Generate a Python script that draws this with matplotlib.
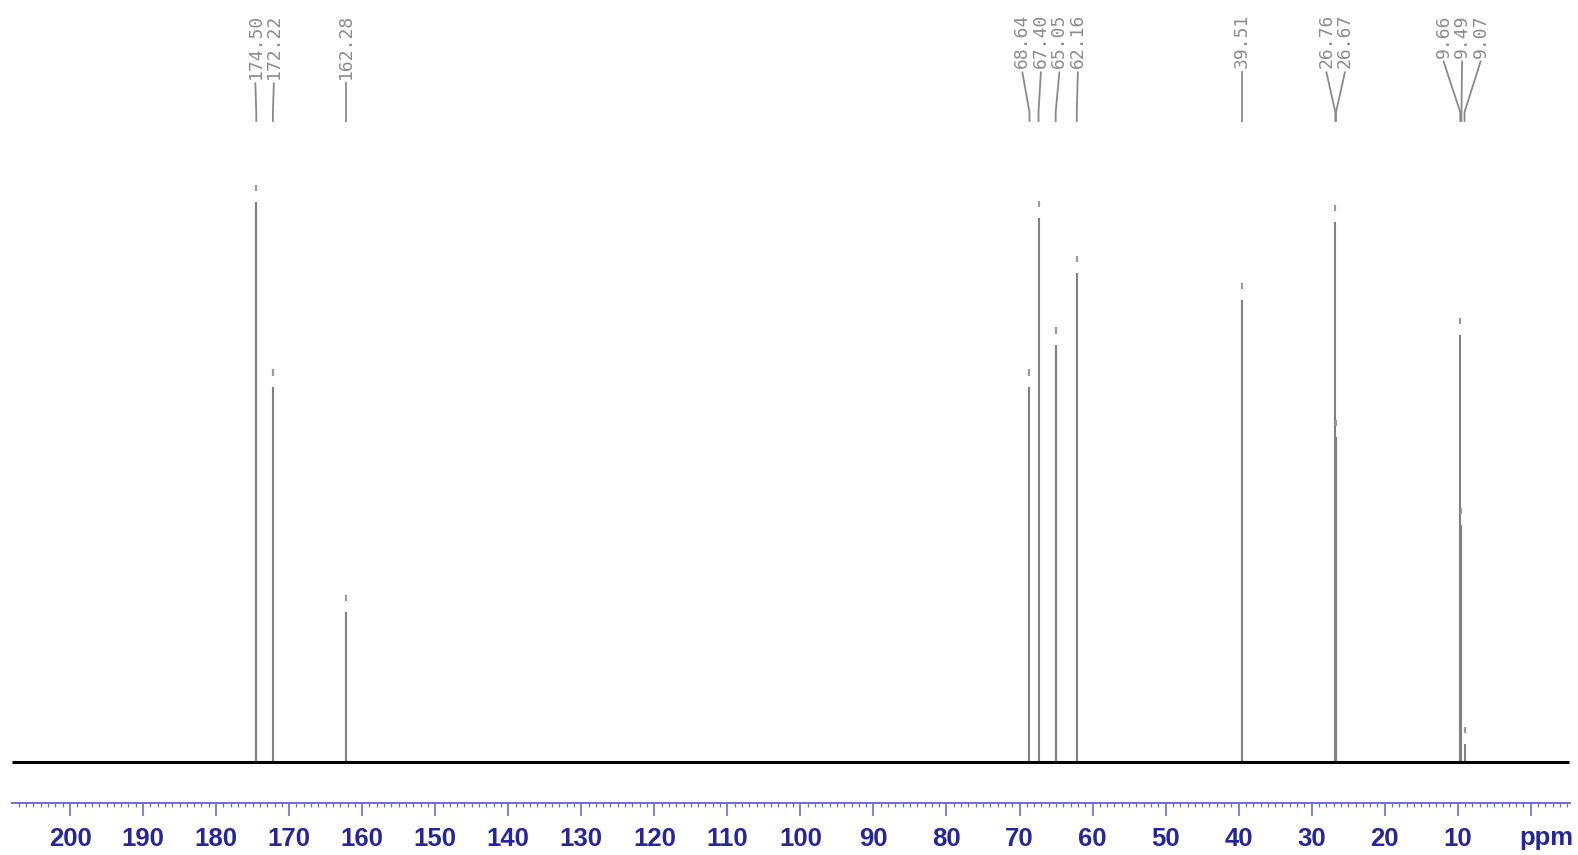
import numpy as np
import matplotlib
matplotlib.use("Agg")
import matplotlib.pyplot as plt
from matplotlib.ticker import MultipleLocator, FixedLocator
from matplotlib.transforms import blended_transform_factory

# 13C NMR peak list: chemical shifts (ppm) and relative intensities
shifts = [174.50, 172.22, 162.28, 68.64, 67.40, 65.05, 62.16,
          39.51, 26.76, 26.67, 9.66, 9.49, 9.07]
intensities = [100.0, 67.0, 26.8, 67.0, 97.1, 74.5, 87.3,
               82.5, 96.4, 58.0, 76.2, 42.3, 3.2]
shift_labels = ["174.50", "172.22", "162.28", "68.64", "67.40", "65.05", "62.16",
                "39.51", "26.76", "26.67", "9.66", "9.49", "9.07"]
major_ticks = list(range(200, -1, -10))
tick_labels = [str(t) for t in major_ticks[:-1]] + [""]

W, H = 1578, 855
PX_PER_PPM = 7.304
UNIT = 5.6          # pixels per intensity unit
BASE_PX = 762       # baseline row, from the top


def ppm_at(px):
    return 200 - (px - 70) / PX_PER_PPM


def frac_y(px_from_top):
    return 1 - px_from_top / H


fig = plt.figure(figsize=(W / 100, H / 100), dpi=100)
fig.patch.set_facecolor("white")

# spectrum area
ax = fig.add_axes([0, 0, 1, 1])
ax.set_xlim(ppm_at(0), ppm_at(W))
ax.set_ylim(-(H - BASE_PX) / UNIT, BASE_PX / UNIT)
ax.axis("off")

shifts_a = np.array(shifts)
heights_a = np.array(intensities)

ax.plot([ppm_at(12), ppm_at(1569)], [0, 0], color="black", lw=2.2,
        solid_capstyle="butt", zorder=3)
ax.vlines(shifts_a, 0, heights_a, color="#808080", lw=1.5, zorder=2)
# peak-pick marks above each peak
ax.vlines(shifts_a, heights_a + 2.0, heights_a + 3.1, color="#9a9a9a", lw=1.6)

# ppm scale
x0, x1 = 12, 1570
ax2 = fig.add_axes([x0 / W, frac_y(803), (x1 - x0) / W, 1e-4])
ax2.set_xlim(ppm_at(x0), ppm_at(x1))
ax2.set_yticks([])
for s in ("top", "left", "right"):
    ax2.spines[s].set_visible(False)
axis_blue = "#6b6bd6"
label_blue = "#25259c"
ax2.spines["bottom"].set_color(axis_blue)
ax2.spines["bottom"].set_linewidth(1.4)
ax2.xaxis.set_major_locator(FixedLocator(major_ticks))
ax2.set_xticklabels(tick_labels)
ax2.xaxis.set_minor_locator(MultipleLocator(1))
ax2.tick_params(axis="x", which="major", direction="out", length=9.5, width=1.2,
                color=axis_blue, pad=7.5, labelsize=18.5, labelcolor=label_blue)
ax2.tick_params(axis="x", which="minor", direction="out", length=3, width=0.9,
                color=axis_blue)
for lab in ax2.get_xticklabels():
    lab.set_fontweight("bold")
    lab.set_family("Liberation Sans")
fig.text(1546 / W, frac_y(838), "ppm", ha="center", va="center",
         fontsize=18.5, fontweight="bold", family="Liberation Sans", color=label_blue)


# spread peak labels so neighbouring ones do not collide
def spread(targets, sep):
    clusters = [[t] for t in targets]

    def place(c):
        c0 = np.mean(c) + (len(c) - 1) / 2 * sep
        return [c0 - i * sep for i in range(len(c))]

    merged = True
    while merged:
        merged = False
        for i in range(len(clusters) - 1):
            a = place(clusters[i])
            b = place(clusters[i + 1])
            if a[-1] - b[0] < sep:
                clusters[i] = clusters[i] + clusters[i + 1]
                del clusters[i + 1]
                merged = True
                break
    out = []
    for c in clusters:
        out.extend(place(c))
    return out


label_pos = spread(shifts, 18.5 / PX_PER_PPM)
tr = blended_transform_factory(ax.transData, ax.transAxes)
texts = []
for lp, txt in zip(label_pos, shift_labels):
    t = ax.text(lp, frac_y(14), txt, rotation=90, ha="center", va="top",
                family="DejaVu Sans Mono", fontsize=13, color="#8c8c8c",
                transform=tr)
    texts.append(t)

fig.canvas.draw()
renderer = fig.canvas.get_renderer()
for t, lp, sx in zip(texts, label_pos, shifts):
    bb = t.get_window_extent(renderer)
    y_start = bb.y0 / H - 4 / H
    y_bend = frac_y(112)
    y_end = frac_y(121)
    ax.plot([lp, sx, sx], [y_start, y_bend, y_end], color="#8a8a8a", lw=1.3,
            transform=tr)

fig.savefig("out.png", dpi=100)
